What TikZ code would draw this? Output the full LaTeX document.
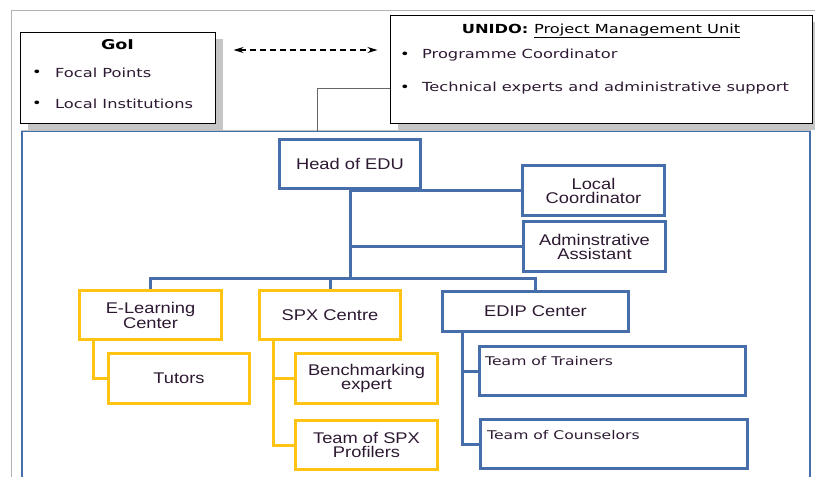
\documentclass[tikz,border=0pt]{standalone}
\usepackage{fontspec}
\usetikzlibrary{arrows.meta,shadows}
\newfontfamily\arialfont[FakeStretch=1.18]{Liberation Sans}
\newfontfamily\verdfont[FakeStretch=1.3]{DejaVu Sans}
\definecolor{edublue}{RGB}{70,110,170}
\definecolor{eduyellow}{RGB}{255,195,20}
\definecolor{textdark}{RGB}{45,25,50}
\begin{document}
\begin{tikzpicture}[x=1pt,y=-1pt,
    box/.style={draw=edublue,line width=3pt,fill=white,align=center,inner sep=0pt,
      text=textdark,font=\arialfont\fontsize{15.5}{14}\selectfont},
    ybox/.style={box,draw=eduyellow},
    wire/.style={edublue,line width=3pt},
    ywire/.style={eduyellow,line width=3pt},
    panel/.style={draw=black,line width=1pt,fill=white,inner sep=0pt,
      drop shadow={shadow xshift=8pt,shadow yshift=-7pt,fill=gray!45,opacity=1}},
    item/.style={anchor=west,inner sep=0pt,text=textdark,font=\verdfont\fontsize{12.5}{14}\selectfont},
    dot/.style={inner sep=0pt,font=\verdfont\fontsize{12.5}{14}\selectfont},
    teamlabel/.style={text=textdark,inner sep=0pt,anchor=north west,font=\verdfont\fontsize{12}{13}\selectfont}]
  \useasboundingbox (0,0) rectangle (815,477);
  \clip (0,0) rectangle (815,477);
  % outer frame
  \draw[gray!60,line width=0.8pt] (11,480) -- (11,10) -- (815,10);
  % partners
  \node[panel,minimum width=195pt,minimum height=91pt] (goi) at (117.5,77.5) {};
  \node[panel,minimum width=422pt,minimum height=108pt] (unido) at (601,69) {};
  \node[dot] (goititle) at (117.5,45) {\verdfont\fontsize{13.5}{14}\selectfont\bfseries GoI};
  \node[dot] (b1) at (37,73) {\textbullet};
  \node[item] (focal) at (55,73) {Focal Points};
  \node[dot] (b2) at (37,104) {\textbullet};
  \node[item] (local) at (55,104) {Local Institutions};
  \node[dot] (unidotitle) at (601,31) {\bfseries UNIDO: \mdseries\underline{Project Management Unit}};
  \node[dot] (b3) at (405,55) {\textbullet};
  \node[item] (progc) at (422,55) {Programme Coordinator};
  \node[dot] (b4) at (405,88) {\textbullet};
  \node[item] (tech) at (422,88) {Technical experts and administrative support};
  \draw[black,line width=1.4pt,dash pattern=on 6pt off 4pt,{Stealth[length=10pt,width=6pt]}-{Stealth[length=10pt,width=6pt]}]
    ([xshift=18pt,yshift=27.5pt]goi.east) -- ([xshift=-12pt,yshift=27.5pt]goi.east -| unido.west);
  % EDU frame
  \node[draw=edublue,line width=2pt,minimum width=788pt,minimum height=400pt,inner sep=0pt] (edu) at (416,331) {};
  \draw[gray!50,line width=1pt] (edu.north west) -- (edu.north east);
  \coordinate (link) at (317,131);
  \draw[gray!80!black,line width=1pt] (tech.west -| unido.west) -| (link);
  % units
  \node[box,minimum width=141pt,minimum height=49pt] (head) at (350,164) {Head of EDU};
  \node[box,minimum width=142pt,minimum height=50pt] (lc) at (593.5,190.5) {Local\\Coordinator};
  \node[box,minimum width=142pt,minimum height=50pt] (aa) at (594.5,246.5) {Adminstrative\\Assistant};
  \node[ybox,minimum width=142pt,minimum height=49pt] (elearn) at (150.5,315) {E-Learning\\Center};
  \node[ybox,minimum width=141pt,minimum height=50pt] (tutors) at (179,378.5) {Tutors};
  \node[ybox,minimum width=141pt,minimum height=49pt] (spx) at (330,315) {SPX Centre};
  \node[ybox,minimum width=142pt,minimum height=50pt] (bench) at (366.5,378.5) {Benchmarking\\expert};
  \node[ybox,minimum width=142pt,minimum height=49pt] (prof) at (366.5,445) {Team of SPX\\Profilers};
  \node[box,minimum width=186pt,minimum height=40pt] (edip) at (535.5,311.5) {EDIP Center};
  \node[box,minimum width=266pt,minimum height=49pt,
    label={[teamlabel,xshift=7pt,yshift=-11pt]north west:Team of Trainers}] (trainers) at (612.5,371) {};
  \node[box,minimum width=267pt,minimum height=49pt,
    label={[teamlabel,xshift=8pt,yshift=-12pt]north west:Team of Counselors}] (couns) at (614,444) {};
  % links
  \coordinate (bar) at (350,278);
  \draw[wire] (head.south) -- (bar);
  \draw[wire] (lc.west) -- (lc.west -| head.south);
  \draw[wire] (aa.west) -- (aa.west -| head.south);
  \draw[wire] (elearn.north) |- (bar) -| (edip.north);
  \draw[wire] (spx.north) -- (spx.north |- bar);
  \draw[ywire] (tutors.west) -| ([xshift=15pt]elearn.south west);
  \draw[ywire] (bench.west) -| ([xshift=15pt]spx.south west);
  \draw[ywire] (prof.west) -| ([xshift=15pt]spx.south west);
  \draw[wire] (trainers.west) -| ([xshift=21pt]edip.south west);
  \draw[wire] (couns.west) -| ([xshift=21pt]edip.south west);
\end{tikzpicture}
\end{document}
